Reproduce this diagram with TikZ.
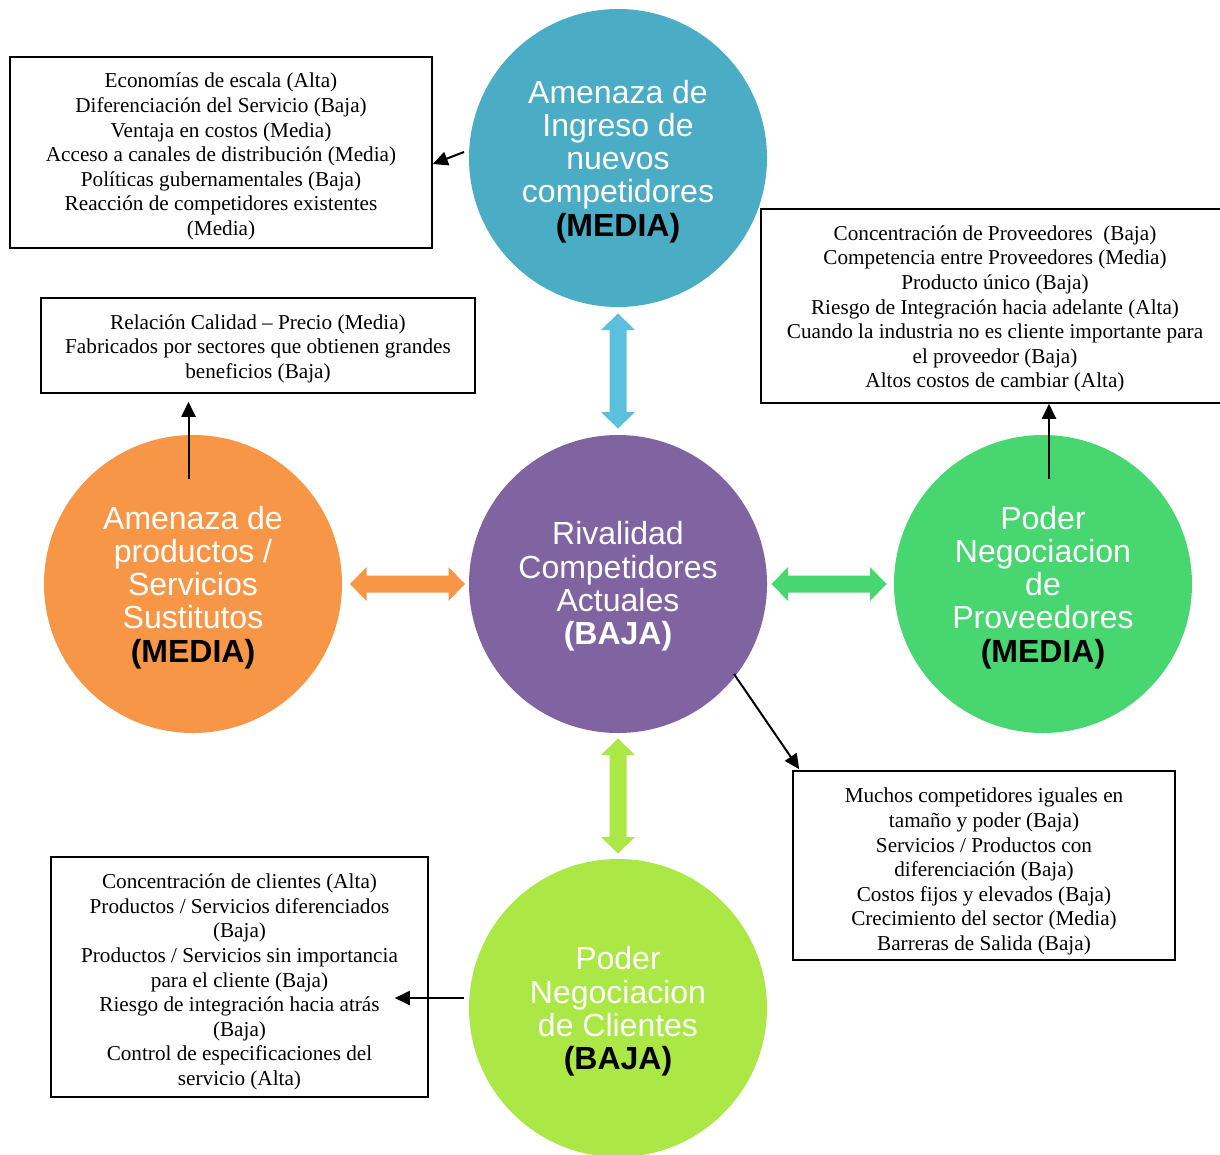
\documentclass[tikz,border=0pt]{standalone}
\usepackage{fontspec}
\setmainfont{Liberation Serif}
\newfontfamily\arialf{Liberation Sans}
\usetikzlibrary{arrows.meta,calc}
\definecolor{topC}{HTML}{4BACC6}
\definecolor{midC}{HTML}{8064A2}
\definecolor{leftC}{HTML}{F79646}
\definecolor{rightC}{HTML}{47D670}
\definecolor{botC}{HTML}{ABE846}
\definecolor{blueA}{HTML}{5BC0DE}
\tikzset{
  circ/.style={circle, minimum size=298pt, inner sep=0pt, draw=none},
  ctext/.style={text=white, align=center, inner sep=0pt, yshift=-3.5pt,
    font=\arialf\fontsize{32}{33.2}\selectfont},
  infobox/.style={draw=black, line width=1.6pt, inner sep=0pt},
  btext/.style={align=center, inner sep=0pt, font=\fontsize{21.2}{24.6}\selectfont},
  arr/.style={line width=2pt, -{Triangle[length=15pt,width=14pt]}},
  dblarr/.pic={\path[pic actions] (-57.5,0) -- (-41,-17) -- (-41,-8.5) -- (41,-8.5) -- (41,-17)
     -- (57.5,0) -- (41,17) -- (41,8.5) -- (-41,8.5) -- (-41,17) -- cycle;}
}
\newcommand{\blk}[1]{\textcolor{black}{\bfseries #1}}
\begin{document}
\begin{tikzpicture}[x=1pt,y=-1pt]
\path[use as bounding box, fill=white] (0,0) rectangle (1220,1154);
\clip (0,0) rectangle (1220,1154);

% circles
\node[circ, fill=topC, label={[ctext]center:{Amenaza de\\Ingreso de\\nuevos\\competidores\\\blk{(MEDIA)}}}] (top) at (618,158) {};
\node[circ, fill=midC, label={[ctext, yshift=1pt]center:{Rivalidad\\Competidores\\Actuales\\{\bfseries (BAJA)}}}] (mid) at (618,584) {};
\node[circ, fill=leftC, label={[ctext]center:{Amenaza de\\productos /\\Servicios\\Sustitutos\\\blk{(MEDIA)}}}] (left) at (193,584) {};
\node[circ, fill=rightC, label={[ctext]center:{Poder\\Negociacion\\de\\Proveedores\\\blk{(MEDIA)}}}] (right) at (1043,584) {};
\node[circ, fill=botC, label={[ctext]center:{Poder\\Negociacion\\de Clientes\\\blk{(BAJA)}}}] (bot) at (618,1008) {};

% block double arrows
\pic[fill=blueA, rotate=90] at ($(top)!0.5!(mid)$) {dblarr};
\pic[fill=botC, rotate=90] at ($(mid)!0.5!(bot)$) {dblarr};
\pic[fill=leftC] at (407.5,584) {dblarr};
\pic[fill=rightC] at (829,584) {dblarr};

% boxes
\node[infobox, minimum width=422pt, minimum height=191pt,
 label={[btext, yshift=-4pt]center:{Economías de escala (Alta)\\Diferenciación del Servicio (Baja)\\Ventaja en costos (Media)\\Acceso a canales de distribución (Media)\\Políticas gubernamentales (Baja)\\Reacción de competidores existentes\\(Media)}}] (box1) at (221,152.5) {};
\node[infobox, minimum width=470pt, minimum height=194pt,
 label={[btext, yshift=-3pt, xshift=-1pt]center:{Concentración de Proveedores \ (Baja)\\Competencia entre Proveedores (Media)\\Producto único (Baja)\\Riesgo de Integración hacia adelante (Alta)\\Cuando la industria no es cliente importante para\\el proveedor (Baja)\\Altos costos de cambiar (Alta)}}] (box2) at (996,306) {};
\node[infobox, minimum width=434pt, minimum height=95pt,
 label={[btext, yshift=-3pt]center:{Relación Calidad – Precio (Media)\\Fabricados por sectores que obtienen grandes\\beneficios (Baja)}}] (box3) at (258,345.5) {};
\node[infobox, minimum width=382pt, minimum height=189pt,
 label={[btext, yshift=-6pt]center:{Muchos competidores iguales en\\tamaño y poder (Baja)\\Servicios / Productos con\\diferenciación (Baja)\\Costos fijos y elevados (Baja)\\Crecimiento del sector (Media)\\Barreras de Salida (Baja)}}] (box4) at (984,865.5) {};
\node[infobox, minimum width=377pt, minimum height=240pt,
 label={[btext, yshift=-5pt]center:{Concentración de clientes (Alta)\\Productos / Servicios diferenciados\\(Baja)\\Productos / Servicios sin importancia\\para el cliente (Baja)\\Riesgo de integración hacia atrás\\(Baja)\\Control de especificaciones del\\servicio (Alta)}}] (box5) at (239.5,977) {};

% connectors
\coordinate (a1) at (464,152);
\draw[arr] (a1) -- ($(box1.east)+(0,11.5)$);
\coordinate (a2) at (1049,479);
\draw[arr] (a2) -- (a2 |- box2.south);
\coordinate (a3) at (188.5,479);
\draw[arr] (a3) -- ($(a3 |- box3.south)+(0,8)$);
\coordinate (a4) at (734,674);
\draw[arr] (a4) -- ($(box4.north west)+(7,-1)$);
\coordinate (a5) at (464,998);
\draw[arr] (a5) -- ($(box5.east)+(-34,21)$);
\end{tikzpicture}
\end{document}
